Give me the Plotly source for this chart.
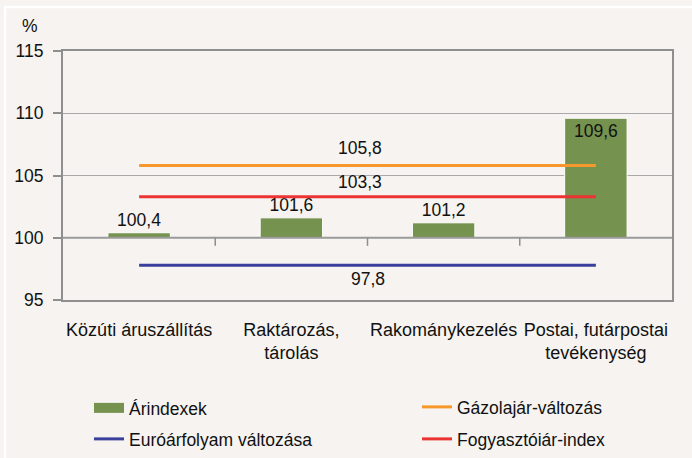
import plotly.graph_objects as go

categories = ["Közúti áruszállítás", "Raktározás,<br>tárolás", "Rakománykezelés", "Postai, futárpostai<br>tevékenység"]
arindex = [100.4, 101.6, 101.2, 109.6]
arindex_labels = ["100,4", "101,6", "101,2", "109,6"]
gazolaj = 105.8
fogyasztoi = 103.3
euro = 97.8
y_ticks = [95, 100, 105, 110, 115]

BG = "#f6f3f0"
FONT = "Liberation Sans, Arial, sans-serif"
GREEN = "#76924f"
ORANGE = "#f7982c"
RED = "#ec3333"
BLUE = "#3b3f9c"
TXT = "#111"
FS = 17.5

L, R, T, B = 63, 20, 51, 158
PW, PH = 692 - L - R, 458 - T - B

def px_x(p):
    return (p - L) / PW

def px_y(p):
    return (458 - B - p) / PH

fig = go.Figure()

fig.add_trace(go.Bar(
    x=categories, y=[v - 100 for v in arindex], base=100,
    width=0.41, marker=dict(color=GREEN, line=dict(color="white", width=1)),
    text=arindex_labels,
    textposition=["outside", "outside", "outside", "inside"],
    insidetextanchor="end",
    textfont=dict(size=FS, color=TXT, family=FONT),
    outsidetextfont=dict(size=FS, color=TXT, family=FONT),
    insidetextfont=dict(size=FS, color=TXT, family=FONT),
    cliponaxis=False, showlegend=False,
))

def hline(val, color, name, legend):
    fig.add_trace(go.Scatter(
        x=[categories[0], categories[-1]], y=[val, val], mode="lines",
        line=dict(color=color, width=3), name=name, legend=legend,
    ))

# legend proxy for bars
fig.add_trace(go.Scatter(x=[None], y=[None], mode="lines",
                         line=dict(color=GREEN, width=11), name="Árindexek", legend="legend"))
hline(gazolaj, ORANGE, "Gázolajár-változás", "legend2")
hline(euro, BLUE, "Euróárfolyam változása", "legend3")
hline(fogyasztoi, RED, "Fogyasztóiár-index", "legend4")

ann_font = dict(size=FS, color=TXT, family=FONT)
fig.add_annotation(x=1.45, y=gazolaj, text="105,8", showarrow=False, yshift=18, font=ann_font)
fig.add_annotation(x=1.45, y=fogyasztoi, text="103,3", showarrow=False, yshift=15, font=ann_font)
fig.add_annotation(x=1.5, y=euro, text="97,8", showarrow=False, yshift=-14, font=ann_font)
fig.add_annotation(xref="paper", yref="paper", x=px_x(30), y=px_y(26), text="%", showarrow=False,
                   xanchor="center", yanchor="middle", font=ann_font)

# category axis crossing at 100 with tick marks between categories
fig.add_shape(type="line", xref="paper", yref="y", x0=0, x1=1, y0=100, y1=100,
              line=dict(color="#9a9a9a", width=2), layer="above")
for xb in [0.5, 1.5, 2.5]:
    fig.add_shape(type="line", xref="x", yref="y", x0=xb, x1=xb, y0=100, y1=99.35,
                  line=dict(color="#8e8e8e", width=1.5))

# outer white frame
fig.add_shape(type="rect", xref="paper", yref="paper",
              x0=px_x(5), x1=px_x(700), y0=px_y(470), y1=px_y(7),
              line=dict(color="white", width=2.5), fillcolor="rgba(0,0,0,0)", layer="above")

leg_font = dict(size=FS, family=FONT, color=TXT)
def leg(xpx, ypx):
    return dict(orientation="h", x=px_x(xpx), xanchor="left", y=px_y(ypx), yanchor="middle",
                bgcolor="rgba(0,0,0,0)", font=leg_font, borderwidth=0)

fig.update_layout(
    width=692, height=458,
    margin=dict(l=L, r=R, t=T, b=B, autoexpand=False),
    paper_bgcolor=BG, plot_bgcolor=BG,
    font=dict(family=FONT, color=TXT, size=FS),
    xaxis=dict(type="category", showgrid=False, showline=True, mirror=True,
               linecolor="#8e8e8e", linewidth=2, ticks="", tickangle=0,
               tickfont=dict(size=18, family=FONT, color=TXT),
               ticklabelstandoff=12, automargin=False),
    yaxis=dict(range=[95, 115], tickvals=y_ticks, ticktext=[str(v) for v in y_ticks],
               showgrid=True, gridcolor="#a9a9a9", gridwidth=1.3,
               showline=True, mirror=True, linecolor="#8e8e8e", linewidth=2,
               ticks="outside", ticklen=8, tickcolor="#8e8e8e", tickwidth=1.5,
               tickfont=dict(size=17.5, family=FONT, color=TXT), zeroline=False,
               ticklabelstandoff=6, automargin=False),
    legend=leg(89, 408),
    legend2=leg(417, 407),
    legend3=leg(89, 439),
    legend4=leg(417, 439),
)

fig.write_html("out.html", config={"displayModeBar": False},
               post_script="document.body.style.margin='0';")
